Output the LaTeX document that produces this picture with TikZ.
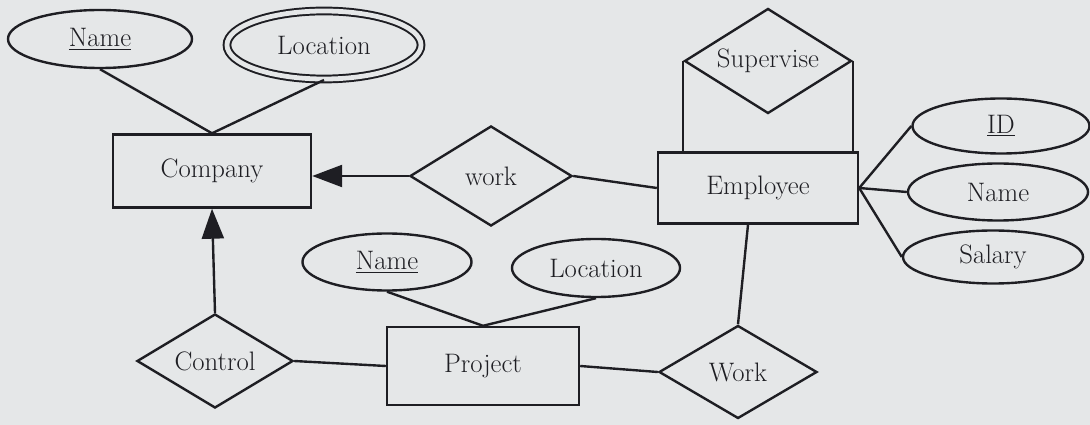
\documentclass[tikz,border=0pt]{standalone}
\usepackage{fontspec}
\usepackage{tikz}
\usetikzlibrary{arrows.meta,positioning,shapes.geometric}

\definecolor{ink}{RGB}{30,30,35}
\definecolor{paper}{RGB}{229,231,232}

\begin{document}
\begin{tikzpicture}[
    x=0.025cm, y=-0.025cm,
    font=\rmfamily\fontsize{19}{23}\selectfont,
    every node/.style={text=ink},
    entity/.style={rectangle, draw=ink, line width=1.7pt, inner sep=1pt},
    attr/.style={ellipse, draw=ink, line width=1.7pt, inner sep=0pt},
    multi/.style={attr, double=paper, double distance=3.4pt, line width=1.4pt},
    rel/.style={diamond, draw=ink, line width=1.7pt, inner sep=0pt, aspect=1.6},
    link/.style={draw=ink, line width=1.7pt},
    arrow/.style={link, -{Triangle[length=0.75cm, width=0.55cm]}}
]
\useasboundingbox[fill=paper] (0,0) rectangle (1090,425);

% Entities
\node[entity, minimum width=4.95cm, minimum height=1.825cm] (company) at (212,171) {Company};
\node[entity, minimum width=5cm, minimum height=1.775cm] (employee) at (758,188) {Employee};
\node[entity, minimum width=4.8cm, minimum height=1.95cm] (project) at (483,366) {Project};

% Relationships
\node[rel, minimum width=4.05cm, minimum height=2.5cm] (works) at (491,176) {work};
\node[rel, minimum width=4.175cm, minimum height=2.625cm] (supervise) at (768,61) {Supervise};
\node[rel, minimum width=3.9cm, minimum height=2.35cm] (control) at (215,361) {Control};
\node[rel, minimum width=3.95cm, minimum height=2.325cm] (workon) at (738,372) {Work};

% Attributes
\node[attr, minimum width=4.6cm, minimum height=1.45cm] (cname) at (100,39) {\underline{Name}};
\node[multi, minimum width=4.85cm, minimum height=1.7cm] (cloc) at (324,45) {Location};
\node[attr, minimum width=4.425cm, minimum height=1.375cm] (eid) at (1001,126) {\underline{ID}};
\node[attr, minimum width=4.5cm, minimum height=1.425cm] (ename) at (998,192) {Name};
\node[attr, minimum width=4.5cm, minimum height=1.325cm] (esalary) at (993,257) {Salary};
\node[attr, minimum width=4.225cm, minimum height=1.425cm] (pname) at (387,262) {\underline{Name}};
\node[attr, minimum width=4.2cm, minimum height=1.45cm] (ploc) at (596,268) {Location};

% Attribute links
\draw[link] (cname.south) -- (company.north);
\draw[link] (cloc.south) -- (company.north);
\draw[link] (employee.east) -- (eid.west);
\draw[link] (employee.east) -- (ename.west);
\draw[link] (employee.east) -- (esalary.west);
\draw[link] (pname.south) -- (project.north);
\draw[link] (ploc.south) -- (project.north);

% Relationship links
\draw[arrow] (works.west) -- (company.east |- works.west);
\draw[link] (works.east) -- (employee.west);
\draw[link] (supervise.west) -- (supervise.west |- employee.north);
\draw[link] (supervise.east) -- (supervise.east |- employee.north);
\draw[arrow] (control.north) -- (company.south);
\draw[link] (control.east) -- (project.west);
\draw[link] (project.east) -- (workon.west);
\draw[link] ([xshift=-0.25cm]employee.south) -- (workon.north);
\end{tikzpicture}
\end{document}
